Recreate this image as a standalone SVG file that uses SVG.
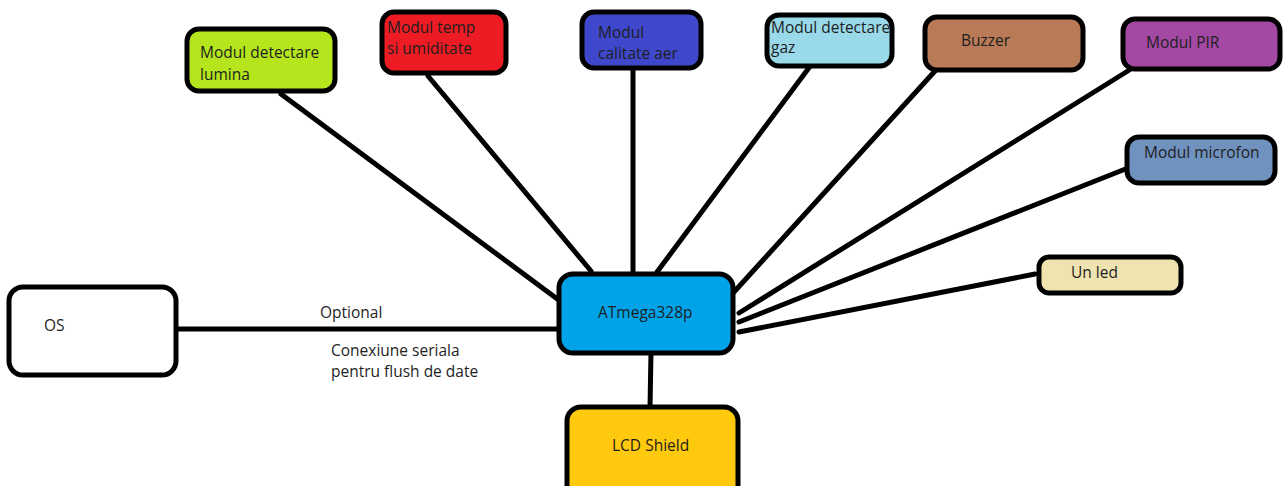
<svg xmlns="http://www.w3.org/2000/svg" width="1283" height="486" viewBox="0 0 1283 486">
<style>
.box{stroke:#000;stroke-width:5}
.t{font-family:"Open Sans","Liberation Sans",sans-serif;font-size:15.5px;fill:#1e1e1e}
.c{stroke:#000;stroke-width:5;stroke-linecap:round;fill:none}
</style>
<rect width="1283" height="486" fill="#fff"/>
<g id="connectors">
<line class="c" x1="281" y1="94" x2="560" y2="301"/>
<line class="c" x1="428" y1="76" x2="591" y2="271"/>
<line class="c" x1="633" y1="70" x2="633" y2="272"/>
<line class="c" x1="811" y1="65" x2="657" y2="272"/>
<line class="c" x1="935" y1="71" x2="734" y2="292"/>
<line class="c" x1="1131" y1="69" x2="739" y2="313"/>
<line class="c" x1="1128" y1="168" x2="739" y2="322"/>
<line class="c" x1="1035" y1="274" x2="739" y2="332"/>
<line class="c" x1="177" y1="329" x2="558" y2="329"/>
<line class="c" x1="651" y1="352" x2="650" y2="408"/>
</g>
<g id="n-lumina"><rect class="box" x="187" y="29" width="148" height="62" rx="12" fill="#b5e61d"/><text class="t" x="200" y="58">Modul detectare</text><text class="t" x="200" y="80">lumina</text></g>
<g id="n-temp"><rect class="box" x="382" y="12" width="124" height="61" rx="12" fill="#ed1c24"/><text class="t" x="387" y="33">Modul temp</text><text class="t" x="387" y="54">si umiditate</text></g>
<g id="n-aer"><rect class="box" x="582" y="12" width="119" height="56" rx="12" fill="#3f48cc"/><text class="t" x="598" y="38">Modul</text><text class="t" x="598" y="59">calitate aer</text></g>
<g id="n-gaz"><rect class="box" x="767" y="15" width="125" height="51" rx="12" fill="#99d9ea"/><text class="t" x="771" y="33">Modul detectare</text><text class="t" x="771" y="53">gaz</text></g>
<g id="n-buzzer"><rect class="box" x="925" y="17" width="158" height="53" rx="12" fill="#b97a57"/><text class="t" x="961" y="46">Buzzer</text></g>
<g id="n-pir"><rect class="box" x="1123" y="19" width="157" height="50" rx="12" fill="#a349a4"/><text class="t" x="1146" y="48">Modul PIR</text></g>
<g id="n-microfon"><rect class="box" x="1127" y="137" width="148" height="46" rx="12" fill="#7092be"/><text class="t" x="1144" y="158">Modul microfon</text></g>
<g id="n-led"><rect class="box" x="1039" y="257" width="142" height="36" rx="10" fill="#efe4b0"/><text class="t" x="1071" y="278">Un led</text></g>
<g id="n-os"><rect class="box" x="9" y="287" width="167" height="88" rx="14" fill="#fff"/><text class="t" x="44" y="331">OS</text></g>
<g id="n-atmega"><rect class="box" x="559" y="274" width="174" height="79" rx="14" fill="#00a2e8"/><text class="t" x="598" y="318">ATmega328p</text></g>
<g id="n-lcd"><rect class="box" x="567" y="407" width="171" height="100" rx="14" fill="#ffc90e"/><text class="t" x="612" y="451">LCD Shield</text></g>
<g id="labels">
<text class="t" x="320" y="318">Optional</text>
<text class="t" x="331" y="356">Conexiune seriala</text>
<text class="t" x="331" y="377">pentru flush de date</text>
</g>
</svg>
